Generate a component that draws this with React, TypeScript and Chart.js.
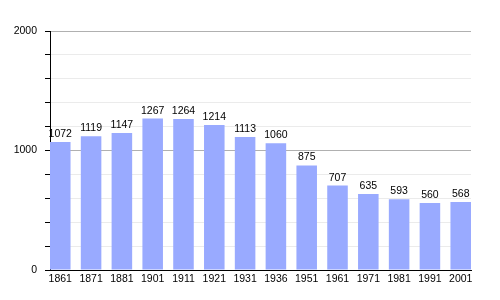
import React, { useEffect, useRef } from "react";
import { Chart, registerables } from "chart.js";

Chart.register(...registerables);

const years = ["1861", "1871", "1881", "1901", "1911", "1921", "1931", "1936", "1951", "1961", "1971", "1981", "1991", "2001"];
const population = [1072, 1119, 1147, 1267, 1264, 1214, 1113, 1060, 875, 707, 635, 593, 560, 568];
const yMax = 2000;
const yStep = 200;
const yLabelEvery = 1000;

const BAR_FRACTION = 0.667;
const FONT = "'Liberation Sans', Arial, sans-serif";

const valueLabels = {
  id: "valueLabels",
  afterDatasetsDraw(chart: any) {
    const ctx = chart.ctx;
    const meta = chart.getDatasetMeta(0);
    ctx.save();
    ctx.font = `10.5px ${FONT}`;
    ctx.fillStyle = "#000";
    ctx.textAlign = "center";
    ctx.textBaseline = "alphabetic";
    meta.data.forEach((bar: any, i: number) => {
      ctx.fillText(String(population[i]), bar.x, bar.y - 5);
    });
    ctx.restore();
  },
};

export default function App() {
  const ref = useRef<HTMLCanvasElement>(null);
  useEffect(() => {
    document.body.style.margin = "0";
    const chart = new Chart(ref.current!, {
      type: "bar",
      data: {
        datasets: [
          {
            data: population.map((v, i) => ({ x: i, y: v })),
            backgroundColor: "rgb(153,170,255)",
            borderWidth: 0,
            categoryPercentage: 1,
            barPercentage: BAR_FRACTION,
          },
        ],
      },
      options: {
        responsive: false,
        animation: false,
        layout: { padding: { top: 31, right: 29, left: 0, bottom: 0 } },
        plugins: { legend: { display: false }, tooltip: { enabled: false } },
        scales: {
          x: {
            type: "linear",
            offset: false,
            min: -BAR_FRACTION / 2,
            max: years.length - 1 + BAR_FRACTION / 2,
            afterBuildTicks: (scale: any) => {
              scale.ticks = years.map((_, i) => ({ value: i }));
            },
            afterFit: (scale: any) => {
              scale.height = 30;
            },
            grid: { display: false, drawTicks: false, offset: false },
            border: { display: true, color: "#000", width: 1 },
            ticks: {
              autoSkip: false,
              maxRotation: 0,
              padding: 3,
              color: "#000",
              font: { family: FONT, size: 10.5 },
              callback: (v: any) => years[Math.round(Number(v))] ?? "",
            },
          },
          y: {
            min: 0,
            max: yMax,
            afterFit: (scale: any) => {
              scale.width = 50;
            },
            grid: {
              color: (c: any) => (c.tick && c.tick.value % yLabelEvery === 0 ? "#b0b0b0" : "#ebebeb"),
              tickColor: "#000",
              tickLength: 5,
              lineWidth: 1,
            },
            border: { display: true, color: "#000", width: 1 },
            ticks: {
              stepSize: yStep,
              padding: 8,
              color: "#000",
              font: { family: FONT, size: 10.5 },
              callback: (v: any) => (Number(v) % yLabelEvery === 0 ? String(v) : ""),
            },
          },
        },
      },
      plugins: [valueLabels],
    });
    return () => chart.destroy();
  }, []);
  return <canvas ref={ref} width={500} height={300} style={{ display: "block" }} />;
}
